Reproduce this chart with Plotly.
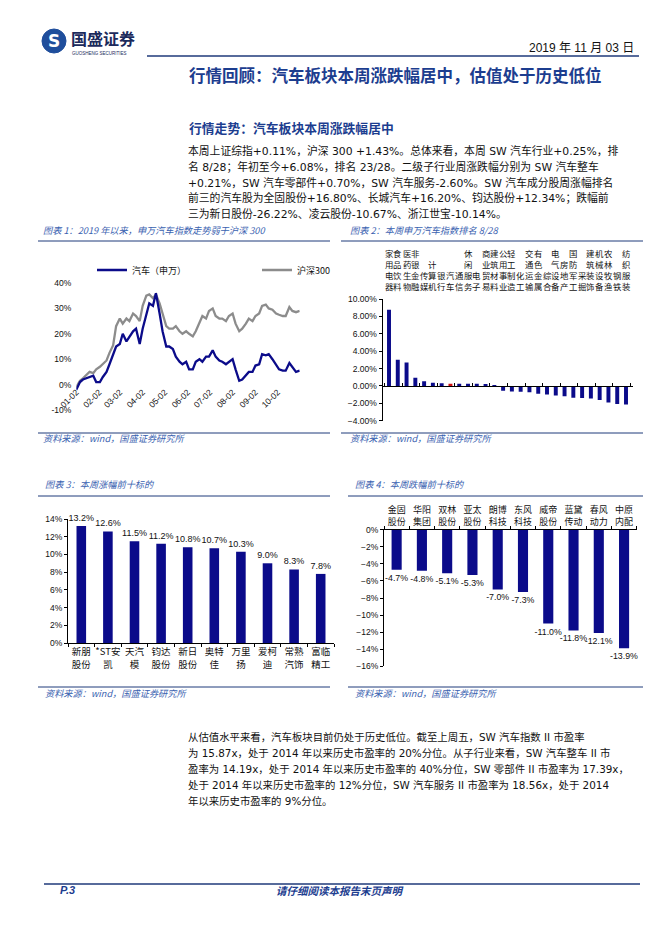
import plotly.graph_objects as go

W, H = 662, 936
def fx(p): return p / W
def fy(p): return 1 - p / H

# ---------------- data ----------------
# Chart 1: index performance since 2019-01-02 (%)
dates = ["2019-01-02","2019-01-07","2019-01-11","2019-01-16","2019-01-20","2019-01-25","2019-01-29",
         "2019-02-03","2019-02-07","2019-02-12","2019-02-16","2019-02-21","2019-02-25","2019-03-02",
         "2019-03-06","2019-03-11","2019-03-15","2019-03-20","2019-03-24","2019-03-29","2019-04-02",
         "2019-04-07","2019-04-11","2019-04-16","2019-04-20","2019-04-25","2019-04-29","2019-05-04",
         "2019-05-08","2019-05-13","2019-05-17","2019-05-22","2019-05-26","2019-05-31","2019-06-04",
         "2019-06-09","2019-06-13","2019-06-18","2019-06-22","2019-06-27","2019-07-01","2019-07-06",
         "2019-07-10","2019-07-15","2019-07-19","2019-07-24","2019-07-28","2019-08-02","2019-08-06",
         "2019-08-11","2019-08-15","2019-08-20","2019-08-24","2019-08-29","2019-09-02","2019-09-07",
         "2019-09-11","2019-09-16","2019-09-20","2019-09-25","2019-09-30","2019-10-04","2019-10-09",
         "2019-10-13","2019-10-18","2019-10-22","2019-10-27","2019-11-01"]
auto_vals = [-2, 1, 2, 2.5, 3, 3.5, 1, 1, 3, 5, 8, 12, 15, 16, 20, 17, 19, 21, 22, 16, 22, 28, 32, 31,
             36, 28, 21, 15, 15, 14, 11, 9, 8, 9, 6, 6, 9, 10, 9, 11, 11, 13.5, 11, 9.5, 9, 8, 9, 10,
             6, 1.5, 2, 3.5, 5, 5, 7.5, 8, 12, 11.5, 12, 10, 8, 6, 5.5, 5.5, 8.5, 7, 5, 5.5]
hs300_vals = [-1, 1.5, 2.5, 4, 5, 4.5, 6, 7, 8, 9.5, 12.5, 15.5, 23, 26, 24, 26, 25, 28, 27, 25, 31,
              35, 35.5, 34, 35.5, 32, 28, 23, 22, 22, 23, 21, 20, 21, 20, 19, 21, 24, 27, 26, 29, 30,
              27, 26, 26, 25, 27, 28, 24, 21, 22, 24, 26, 25, 27, 28, 31, 31.5, 30, 29.5, 28, 27.5,
              27, 27, 30.5, 29, 28.5, 29]
month_ticks = ["2019-01-02","2019-02-02","2019-03-02","2019-04-02","2019-05-02","2019-06-02",
               "2019-07-02","2019-08-02","2019-09-02","2019-10-02"]
month_labels = ["01-02","02-02","03-02","04-02","05-02","06-02","07-02","08-02","09-02","10-02"]
y1_ticks = [-10, 0, 10, 20, 30, 40]
y1_labels = ["-10%", "0%", "10%", "20%", "30%", "40%"]

# Chart 2: SW industry weekly change (%)
ind_names = ["家用电器","食品饮料","医药生物","非银金融","传媒","计算机","银行","汽车","通信","休闲服务",
             "电子","商业贸易","建筑材料","公用事业","轻工制造","化工","交通运输","有色金属","综合",
             "电气设备","房地产","国防军工","采掘","建筑装饰","机械设备","农林牧渔","钢铁","纺织服装"]
ind_vals = [8.75, 3.0, 2.7, 0.95, 0.53, 0.38, 0.3, 0.25, 0.25, 0.25, 0.25, 0.18, 0.02, -0.55, -0.63,
            -0.68, -0.72, -0.9, -1.0, -1.1, -1.2, -1.37, -1.4, -1.45, -1.63, -1.9, -2.07, -2.15]

# Chart 3: top 10 gainers (%)
top_labels = ["新朋<br>股份","*ST安<br>凯","天汽<br>模","钧达<br>股份","新日<br>股份","奥特<br>佳",
              "万里<br>扬","爱柯<br>迪","常熟<br>汽饰","富临<br>精工"]
top_vals = [13.2, 12.6, 11.5, 11.2, 10.8, 10.7, 10.3, 9.0, 8.3, 7.8]

# Chart 4: top 10 losers (%)
bot_labels = ["金固<br>股份","华阳<br>集团","双林<br>股份","亚太<br>股份","朗博<br>科技","东风<br>科技",
              "威帝<br>股份","蓝黛<br>传动","春风<br>动力","中原<br>内配"]
bot_vals = [-4.7, -4.8, -5.1, -5.3, -7.0, -7.3, -11.0, -11.8, -12.1, -13.9]

# ---------------- styles ----------------
NAVY = "#0B0B8A"
GRAY = "#8C8C8C"
DARKBLUE = "#1C3D8F"
CAPBLUE = "#3A62B0"
BODY_FONT = "DejaVu Sans, Noto Sans CJK SC"
CJK = "Noto Sans CJK SC"
TICK_FONT = "Liberation Sans, Noto Sans CJK SC"

fig = go.Figure()

# Chart 1
fig.add_trace(go.Scatter(x=dates, y=hs300_vals, mode="lines", name="沪深300", legendrank=2,
                         line=dict(color=GRAY, width=2.3), xaxis="x", yaxis="y"))
fig.add_trace(go.Scatter(x=dates, y=auto_vals, mode="lines", name="汽车（申万）", legendrank=1,
                         line=dict(color=NAVY, width=2.3), xaxis="x", yaxis="y"))

# Chart 2
colors2 = ["#D01010" if n == "汽车" else NAVY for n in ind_names]
fig.add_trace(go.Bar(x=ind_names, y=ind_vals, marker_color=colors2, width=0.45,
                     xaxis="x2", yaxis="y2", showlegend=False))

# Chart 3
fig.add_trace(go.Bar(x=top_labels, y=top_vals, marker_color=NAVY, width=0.36,
                     text=[f"{v:.1f}%" for v in top_vals], textposition="outside", cliponaxis=False,
                     constraintext="none",
                     textfont=dict(size=9, family=TICK_FONT, color="#111"),
                     xaxis="x3", yaxis="y3", showlegend=False))

# Chart 4
fig.add_trace(go.Bar(x=bot_labels, y=bot_vals, marker_color=NAVY, width=0.4,
                     text=[f"{v:.1f}%" for v in bot_vals], textposition="outside", cliponaxis=False,
                     constraintext="none",
                     textfont=dict(size=8.8, family=TICK_FONT, color="#111"),
                     xaxis="x4", yaxis="y4", showlegend=False))

tickf = dict(size=8.5, family=TICK_FONT, color="#111")
cjkf = dict(size=9, family=CJK, color="#111")

layout = dict(
    template="none",
    width=W, height=H, margin=dict(l=0, r=0, t=0, b=0, pad=0), autosize=False,
    paper_bgcolor="white", plot_bgcolor="white",
    showlegend=True,
    legend=dict(orientation="h", x=fx(84), y=fy(262), xanchor="left", yanchor="middle",
                font=dict(size=9, family=CJK, color="#111"), entrywidth=120, entrywidthmode="pixels",
                bgcolor="rgba(0,0,0,0)", itemwidth=30, borderwidth=0),
    xaxis=dict(domain=[fx(68.3), fx(291.7)], type="date", range=["2019-01-02", "2019-11-01"],
               anchor="free", position=fy(376.7), tickvals=month_ticks, ticktext=month_labels,
               tickangle=-45, showgrid=False, showline=False, zeroline=False, ticks="",
               tickfont=tickf, automargin=False),
    yaxis=dict(domain=[fy(402), fy(275)], range=[-10, 40], tickvals=y1_ticks, ticktext=y1_labels,
               showgrid=False, showline=False, zeroline=False, ticks="",
               tickfont=tickf, anchor="x", ticklabelstandoff=4, automargin=False),
    xaxis2=dict(domain=[fx(374.5), fx(624.5)], type="category", anchor="free", position=fy(378.3),
                showline=True, linecolor="#000", linewidth=1, ticks="inside", ticklen=3,
                tickcolor="#000", tickson="boundaries", showticklabels=False, showgrid=False,
                automargin=False),
    yaxis2=dict(domain=[fy(412.7), fy(291)], range=[-4, 10], dtick=2, tickformat=".2f",
                ticksuffix="%", showline=True, linecolor="#000", linewidth=1, ticks="outside",
                ticklen=3, tickcolor="#000", zeroline=False, showgrid=False, anchor="x2",
                tickfont=tickf, automargin=False),
    xaxis3=dict(domain=[fx(60), fx(326)], type="category", anchor="y3", showline=True,
                linecolor="#000", linewidth=1, ticks="outside", ticklen=3, tickcolor="#000",
                tickson="boundaries", showgrid=False, tickangle=0, automargin=False,
                tickfont=dict(size=9.5, family=CJK, color="#111")),
    yaxis3=dict(domain=[fy(635), fy(511)], range=[0, 14], dtick=2, ticksuffix="%",
                showline=True, linecolor="#000", linewidth=1, ticks="outside", ticklen=3,
                tickcolor="#000", zeroline=False, showgrid=False, anchor="x3", tickfont=tickf,
                automargin=False),
    xaxis4=dict(domain=[fx(376), fx(628.7)], type="category", anchor="y4", side="top",
                showline=True, linecolor="#000", linewidth=1, ticks="outside", ticklen=3,
                tickcolor="#000", tickson="boundaries", showgrid=False, tickangle=0,
                tickfont=cjkf, automargin=False),
    yaxis4=dict(domain=[fy(658.3), fy(521.7)], range=[-16, 0], dtick=2, ticksuffix="%",
                showline=True, linecolor="#000", linewidth=1, ticks="outside", ticklen=3,
                tickcolor="#000", zeroline=False, showgrid=False, anchor="x4", tickfont=tickf,
                automargin=False),
)
fig.update_layout(**layout)

ann = []
def txt(x, y, s, size, color="#111", family=BODY_FONT, xanchor="left", yanchor="middle", **kw):
    ann.append(dict(x=fx(x), y=fy(y), xref="paper", yref="paper", text=s, showarrow=False,
                    xanchor=xanchor, yanchor=yanchor, font=dict(size=size, color=color, family=family),
                    align="left", **kw))

# industry labels (vertical) for chart 2
for n in ind_names:
    ann.append(dict(x=n, xref="x2", y=fy(286), yref="paper", text="<br>".join(n), showarrow=False,
                    xanchor="center", yanchor="bottom", font=dict(size=8.4, family=CJK, color="#111")))

# header
txt(61, 30, "<b>国盛证券</b>", 16, color="#1B2A5C", family=CJK)
txt(62, 45, "GUOSHENG SECURITIES", 4.5, color="#1B2A5C", family="Liberation Sans")
txt(628, 40, "2019 年 11 月 03 日", 12, color="#111", family="Liberation Sans, Noto Sans CJK SC", xanchor="right")
txt(179, 67, "<b>行情回顾：汽车板块本周涨跌幅居中，估值处于历史低位</b>", 16.5, color=DARKBLUE, family=CJK)
txt(179, 120, "<b>行情走势：汽车板块本周涨跌幅居中</b>", 12.8, color=DARKBLUE, family=CJK)

para1 = ["本周上证综指+0.11%，沪深 300 +1.43%。总体来看，本周 SW 汽车行业+0.25%，排",
         "名 8/28；年初至今+6.08%，排名 23/28。二级子行业周涨跌幅分别为 SW 汽车整车",
         "+0.21%，SW 汽车零部件+0.70%，SW 汽车服务-2.60%。SW 汽车成分股周涨幅排名",
         "前三的汽车股为全固股份+16.80%、长城汽车+16.20%、钧达股份+12.34%；跌幅前",
         "三为新日股份-26.22%、凌云股份-10.67%、浙江世宝-10.14%。"]
for i, s in enumerate(para1):
    txt(178, 143 + i * 15.75, s, 10.8)

para2 = ["从估值水平来看，汽车板块目前仍处于历史低位。截至上周五，SW 汽车指数 II 市盈率",
         "为 15.87x，处于 2014 年以来历史市盈率的 20%分位。从子行业来看，SW 汽车整车 II 市",
         "盈率为 14.19x，处于 2014 年以来历史市盈率的 40%分位，SW 零部件 II 市盈率为 17.39x，",
         "处于 2014 年以来历史市盈率的 12%分位，SW 汽车服务 II 市盈率为 18.56x，处于 2014",
         "年以来历史市盈率的 9%分位。"]
for i, s in enumerate(para2):
    txt(178, 729 + i * 16, s, 10.4)

# chart captions and sources
cap = dict(size=9.2, color=CAPBLUE, family=CJK)
txt(33, 222, "<i>图表 1：2019 年以来，申万汽车指数走势弱于沪深 300</i>", **cap)
txt(340, 222, "<i>图表 2：本周申万汽车指数排名 8/28</i>", **cap)
txt(33, 430, "<i>资料来源：wind，国盛证券研究所</i>", **cap)
txt(340, 430, "<i>资料来源：wind，国盛证券研究所</i>", **cap)
txt(35, 476, "<i>图表 3：本周涨幅前十标的</i>", **cap)
txt(345, 476, "<i>图表 4：本周跌幅前十标的</i>", **cap)
txt(35, 685, "<i>资料来源：wind，国盛证券研究所</i>", **cap)
txt(345, 685, "<i>资料来源：wind，国盛证券研究所</i>", **cap)

# footer
txt(50, 882, "<b><i>P.3</i></b>", 11, color=DARKBLUE, family="Liberation Sans")
txt(332, 882, "<b><i>请仔细阅读本报告末页声明</i></b>", 10.5, color=DARKBLUE, family=CJK, xanchor="center")

fig.update_layout(annotations=ann)

shapes = []
def hline(x0, x1, y, color="#1F3A7A", w=1):
    shapes.append(dict(type="line", xref="paper", yref="paper", x0=fx(x0), x1=fx(x1), y0=fy(y), y1=fy(y),
                       line=dict(color=color, width=w)))
hline(139, 631, 48, w=1.5)
hline(30, 322, 233)
hline(333, 635, 233)
hline(30, 322, 425)
hline(333, 635, 425)
hline(30, 322, 488)
hline(340, 635, 488)
hline(30, 322, 679)
hline(340, 635, 679)
hline(36, 632, 876, w=1.5)
# logo circle
shapes.append(dict(type="circle", xref="paper", yref="paper", x0=fx(34), x1=fx(58), y0=fy(45), y1=fy(21),
                   fillcolor="#1F4E9C", line=dict(color="#1F4E9C", width=1)))
fig.update_layout(shapes=shapes)
fig.add_annotation(x=fx(46), y=fy(33), xref="paper", yref="paper", text="<b>S</b>", showarrow=False,
                   font=dict(size=17, color="white", family="DejaVu Sans"), xanchor="center", yanchor="middle")

fig.write_html("out.html")
